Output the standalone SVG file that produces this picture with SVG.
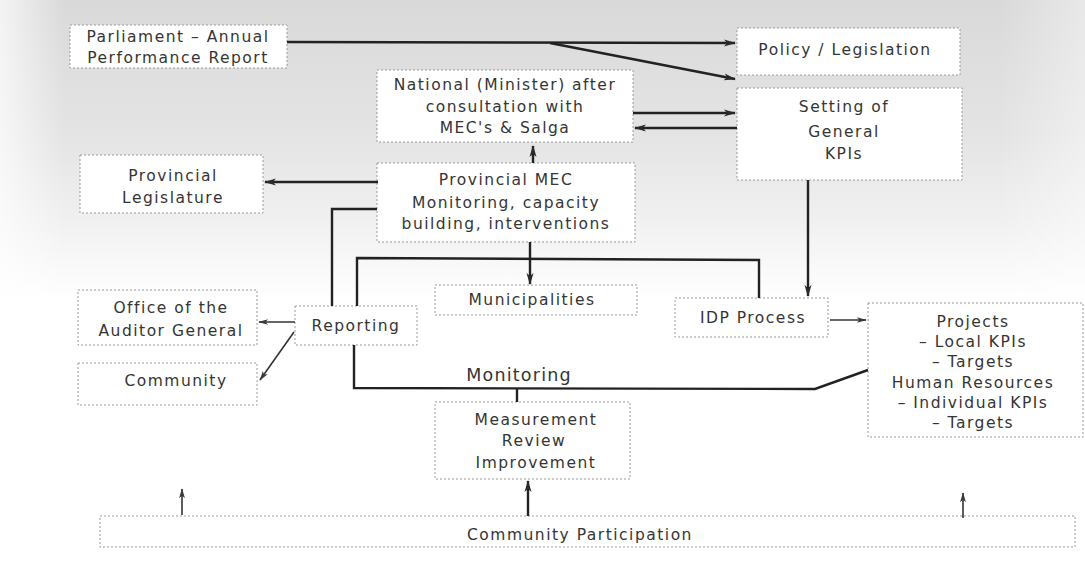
<svg xmlns="http://www.w3.org/2000/svg" width="1085" height="566" viewBox="0 0 1085 566">
<defs>
<linearGradient id="bg" x1="0" y1="0" x2="0" y2="1">
<stop offset="0" stop-color="#d9d9d9"/>
<stop offset="0.45" stop-color="#e4e4e4"/>
<stop offset="0.75" stop-color="#f1f1f1"/>
<stop offset="1" stop-color="#ffffff"/>
</linearGradient>
<linearGradient id="bgx" x1="0" y1="0" x2="1" y2="0">
<stop offset="0" stop-color="#ffffff" stop-opacity="0.7"/>
<stop offset="0.06" stop-color="#ffffff" stop-opacity="0"/>
<stop offset="0.92" stop-color="#ffffff" stop-opacity="0"/>
<stop offset="1" stop-color="#ffffff" stop-opacity="0.4"/>
</linearGradient>
<marker id="ah" viewBox="0 0 12 8" refX="11" refY="4" markerWidth="12" markerHeight="8" markerUnits="userSpaceOnUse" orient="auto">
<path d="M0,0.5 L12,4 L0,7.5 L3,4 z" fill="#2a2a2a"/>
</marker>
<marker id="ahs" viewBox="0 0 12 8" refX="11" refY="4" markerWidth="10" markerHeight="7" markerUnits="userSpaceOnUse" orient="auto">
<path d="M0,0.5 L12,4 L0,7.5 L3,4 z" fill="#3a3a3a"/>
</marker>
</defs>
<style>
.box{fill:#ffffff;stroke:#9a9a9a;stroke-width:1;stroke-dasharray:2 2}
.t{font-family:"DejaVu Sans","Liberation Sans",sans-serif;font-size:15.5px;fill:#353535;text-anchor:middle;letter-spacing:1.5px}
.big{font-size:17.5px;letter-spacing:1.2px}
.ln{fill:none;stroke:#222;stroke-width:2.4}
.thin{fill:none;stroke:#333;stroke-width:1.6}
</style>
<rect x="0" y="0" width="1085" height="566" fill="#ffffff"/>
<rect x="0" y="0" width="1085" height="300" fill="url(#bg)"/>
<rect x="0" y="0" width="1085" height="300" fill="url(#bgx)"/>

<g id="parliament"><rect class="box" x="70" y="25" width="217" height="43"/>
<text class="t" x="178" y="42">Parliament – Annual</text>
<text class="t" x="178" y="63">Performance Report</text></g>

<g id="policy"><rect class="box" x="737" y="28" width="223" height="47"/>
<text class="t" x="845" y="55">Policy / Legislation</text></g>

<g id="setting"><rect class="box" x="737" y="88" width="225" height="92"/>
<text class="t" x="844" y="112">Setting of</text>
<text class="t" x="844" y="137">General</text>
<text class="t" x="844" y="159">KPIs</text></g>

<g id="national"><rect class="box" x="377" y="70" width="256" height="72"/>
<text class="t" x="505" y="90">National (Minister) after</text>
<text class="t" x="505" y="112">consultation with</text>
<text class="t" x="505" y="133">MEC's &amp; Salga</text></g>

<g id="provincial-mec"><rect class="box" x="377" y="163" width="258" height="79"/>
<text class="t" x="506" y="185">Provincial MEC</text>
<text class="t" x="506" y="208">Monitoring, capacity</text>
<text class="t" x="506" y="229">building, interventions</text></g>

<g id="provincial-legislature"><rect class="box" x="80" y="155" width="183" height="58"/>
<text class="t" x="173" y="181">Provincial</text>
<text class="t" x="173" y="203">Legislature</text></g>

<g id="auditor"><rect class="box" x="78" y="290" width="179" height="55"/>
<text class="t" x="171" y="313">Office of the</text>
<text class="t" x="171" y="336">Auditor General</text></g>

<g id="community"><rect class="box" x="78" y="363" width="179" height="42"/>
<text class="t" x="176" y="386">Community</text></g>

<g id="reporting"><rect class="box" x="295" y="306" width="122" height="39"/>
<text class="t" x="356" y="331">Reporting</text></g>

<g id="municipalities"><rect class="box" x="435" y="285" width="202" height="30"/>
<text class="t" x="532" y="305">Municipalities</text></g>

<g id="idp"><rect class="box" x="675" y="298" width="153" height="39"/>
<text class="t" x="753" y="323">IDP Process</text></g>

<g id="projects"><rect class="box" x="868" y="303" width="215" height="134"/>
<text class="t" x="973" y="327">Projects</text>
<text class="t" x="973" y="347">– Local KPIs</text>
<text class="t" x="973" y="367">– Targets</text>
<text class="t" x="973" y="388">Human Resources</text>
<text class="t" x="973" y="408">– Individual KPIs</text>
<text class="t" x="973" y="428">– Targets</text></g>

<g id="measurement"><rect class="box" x="435" y="402" width="195" height="77"/>
<text class="t" x="536" y="425">Measurement</text>
<text class="t" x="534" y="446">Review</text>
<text class="t" x="536" y="468">Improvement</text></g>

<g id="community-participation"><rect class="box" x="100" y="516" width="975" height="31"/>
<text class="t" x="580" y="540">Community Participation</text></g>

<g id="monitoring-label"><text class="t big" x="519" y="381">Monitoring</text></g>

<g id="connectors">
<path class="ln" d="M287,42 L735,43" marker-end="url(#ah)"/>
<path class="ln" d="M550,43 L735,79" marker-end="url(#ah)"/>
<path class="ln" d="M633,113 L735,113" marker-end="url(#ah)"/>
<path class="ln" d="M737,128 L635,128" marker-end="url(#ah)"/>
<path class="ln" d="M533,163 L533,146" marker-end="url(#ah)"/>
<path class="ln" d="M378,182 L265,182" marker-end="url(#ah)"/>
<path class="ln" d="M377,209 L332,209 L332,306"/>
<path class="ln" d="M357,306 L357,258 L759,260 L759,298"/>
<path class="ln" d="M530,242 L530,284" marker-end="url(#ah)"/>
<path class="ln" d="M808,180 L808,296" marker-end="url(#ah)"/>
<path class="thin" d="M830,320 L866,320" marker-end="url(#ahs)"/>
<path class="ln" d="M354,345 L354,388 L815,389 L868,370"/>
<path class="ln" d="M517,388 L517,402"/>
<path class="thin" d="M295,322 L259,322" marker-end="url(#ahs)"/>
<path class="thin" d="M294,332 L260,380" marker-end="url(#ahs)"/>
<path class="thin" d="M182,515 L182,489" marker-end="url(#ahs)"/>
<path class="ln" d="M528,516 L528,481" marker-end="url(#ah)"/>
<path class="thin" d="M963,518 L963,493" marker-end="url(#ahs)"/>
</g>
</svg>
